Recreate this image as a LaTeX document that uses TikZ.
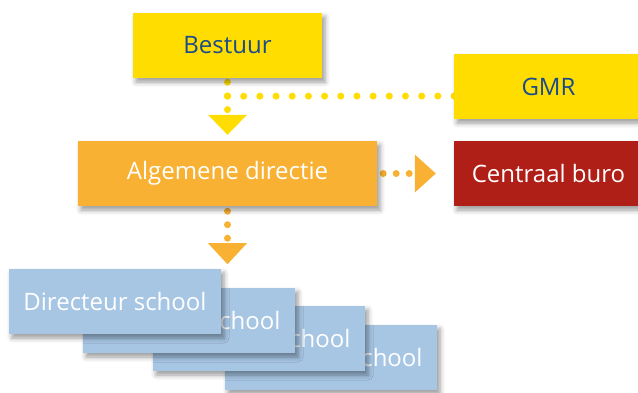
\documentclass[tikz,border=0pt]{standalone}
\usepackage{fontspec}
\setmainfont{Open Sans}
\usetikzlibrary{calc,shadows.blur,backgrounds}
\definecolor{cyellow}{RGB}{255,221,0}
\definecolor{corange}{RGB}{248,177,51}
\definecolor{cred}{RGB}{176,31,23}
\definecolor{cblue}{RGB}{167,198,228}
\definecolor{ctext}{RGB}{26,75,140}
\tikzset{
  box/.style={rectangle, inner sep=0pt, minimum height=65pt, font=\fontsize{24}{28}\selectfont,
    blur shadow={shadow xshift=3pt, shadow yshift=-4pt, shadow blur radius=5pt, shadow opacity=40}},
  ybox/.style={box, fill=cyellow, text=ctext, minimum width=189pt},
  obox/.style={box, fill=corange, text=white, minimum width=299pt},
  rbox/.style={box, fill=cred, text=white, minimum width=189pt},
  bbox/.style={box, fill=cblue, text=white, minimum width=212pt},
  ydot/.style={draw=cyellow, line width=7pt, line cap=round, dash pattern=on 0pt off #1},
  odot/.style={draw=corange, line width=7pt, line cap=round, dash pattern=on 0pt off #1},
}
\begin{document}
\begin{tikzpicture}[x=1pt,y=-1pt]
\useasboundingbox (0,0) rectangle (638,392);
\node[ybox] (bestuur) at (227.5,45.5) {Bestuur};
\node[ybox] (gmr) at (548.5,86.5) {GMR};
\node[obox] (alg) at (227.5,173.5) {Algemene directie};
\node[rbox] (cb) at (548.5,173.5) {Centraal buro};
\node[bbox] (d4) at (331,357.5) {Directeur school};
\node[bbox] (d3) at (259,338.5) {Directeur school};
\node[bbox] (d2) at (189,320.5) {Directeur school};
\node[bbox] (d1) at (115,301.5) {Directeur school};
\begin{pgfonlayer}{background}
  % Bestuur -> Algemene directie
  \draw[ydot=13.7pt] ($(bestuur.south)+(0,4)$) -- ($(alg.north)+(0,-25)$);
  \fill[cyellow] ($(alg.north)+(0,-6)$) -- ++(-19.5,-20) -- ++(39,0) -- cycle;
  % Bestuur -- GMR
  \draw[ydot=16.18pt] ($(bestuur.south)+(0,18)$) -- ($(gmr.west)+(2,9.5)$);
  % Algemene directie -> Centraal buro
  \draw[odot=13pt] ($(alg.east)+(6,0)$) -- ($(alg.east)+(34,0)$);
  \fill[corange] ($(cb.west)+(-18,0)$) -- ++(-21,-19) -- ++(0,38) -- cycle;
  % Algemene directie -> Directeur school
  \draw[odot=13.5pt] ($(alg.south)+(0,5)$) -- ($(alg.south)+(0,34)$);
  \fill[corange] ($(alg.south)+(0,58)$) -- ++(-19.5,-21) -- ++(39,0) -- cycle;
\end{pgfonlayer}
\end{tikzpicture}
\end{document}
